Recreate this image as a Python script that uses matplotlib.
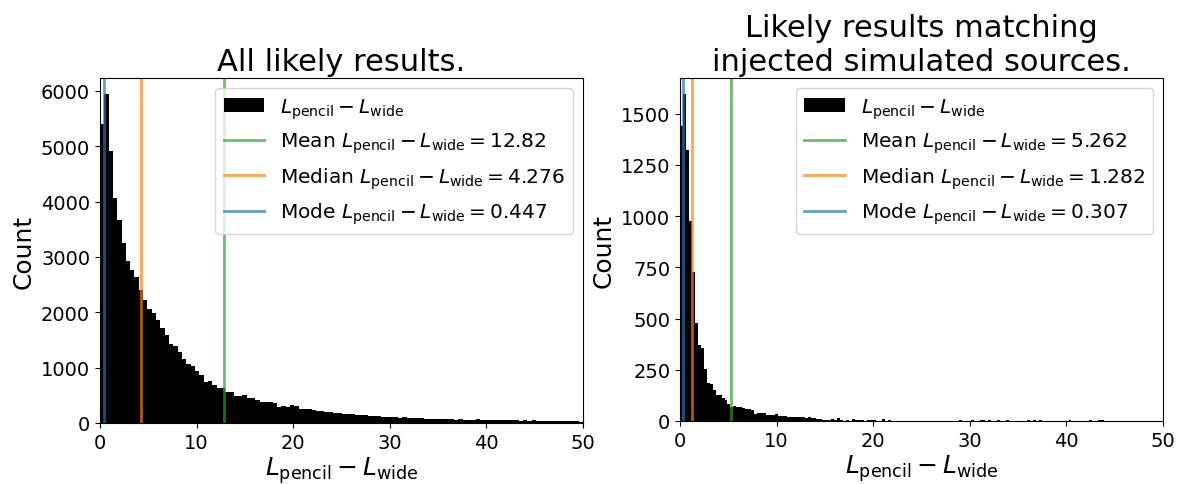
import numpy as np
import matplotlib
matplotlib.use("Agg")
from matplotlib import pyplot as plt
from matplotlib.ticker import MultipleLocator

# bin widths (the quoted "mode" is the upper edge of the tallest bin)
all_width = 0.447
inj_width = 0.307

# counts per bin
all_counts = [
    5408, 5935, 4910, 4059, 3669, 3249, 2932, 2770, 2632, 2410,
    2212, 2062, 1990, 1853, 1721, 1583, 1433, 1391, 1283, 1151,
    1061, 1031, 941, 863, 744, 761, 683, 623, 623, 551,
    551, 480, 480, 503, 444, 444, 414, 372, 372, 378,
    366, 294, 300, 288, 324, 300, 258, 252, 246, 228,
    222, 210, 204, 192, 186, 174, 168, 162, 156, 150,
    144, 138, 132, 126, 120, 114, 108, 102, 102, 96,
    102, 96, 90, 84, 90, 78, 78, 72, 72, 66,
    72, 66, 60, 66, 60, 54, 60, 66, 60, 54,
    60, 54, 48, 54, 48, 54, 48, 42, 48, 42,
    48, 42, 36, 42, 36, 42, 36, 42, 30, 36,
    30, 24,
]

inj_counts = [
    1441, 1594, 1323, 977, 727, 476, 373, 357, 256, 187,
    179, 149, 127, 127, 114, 101, 81, 68, 73, 70,
    66, 62, 60, 57, 55, 36, 38, 39, 40, 28,
    30, 31, 32, 24, 25, 22, 19, 20, 18, 19,
    17, 20, 16, 17, 15, 16, 10, 11, 6, 7,
    5, 8, 6, 15, 3, 2, 4, 0, 10, 3,
    4, 3, 2, 3, 4, 3, 1, 2, 10, 2,
    5, 1, 2, 1, 2, 1, 1, 2, 1, 1,
    2, 1, 1, 1, 2, 1, 1, 1, 0, 1,
    1, 1, 1, 0, 3, 0, 0, 2, 3, 0,
    0, 3, 3, 2, 3, 1, 0, 3, 2, 0,
    3, 2, 0, 0, 0, 0, 2, 3, 0, 3,
    0, 3, 2, 0, 0, 0, 0, 0, 0, 0,
    0, 3, 2, 0, 0, 0, 0, 0, 3, 0,
    0, 3, 3, 2,
]

titles = ["All likely results.", "Likely results matching\ninjected simulated sources."]
means = [12.82, 5.262]
medians = [4.276, 1.282]
modes = [0.447, 0.307]
ytick_steps = [1000, 250]

qty = r"$L_{\rm pencil} - L_{\rm wide}$"
qty_eq = r"$L_{\rm pencil} - L_{\rm wide} = "

fig = plt.figure(figsize=(11.8, 4.85), dpi=100)
ax1 = fig.add_axes([0.0847, 0.126, 0.4093, 0.711])
ax2 = fig.add_axes([0.5763, 0.130, 0.4093, 0.707])

datasets = [(all_counts, all_width), (inj_counts, inj_width)]

for i, ax in enumerate([ax1, ax2]):
    counts, width = datasets[i]
    edges = np.arange(len(counts) + 1) * width
    ax.hist(edges[:-1], bins=edges, weights=counts, color='k', label=qty)

    ax.axvline(means[i], color='C2', alpha=0.7, lw=2,
               label="Mean " + qty_eq + str(means[i]) + "$")
    ax.axvline(medians[i], color='C1', alpha=0.7, lw=2,
               label="Median " + qty_eq + str(medians[i]) + "$")
    ax.axvline(modes[i], color='C0', alpha=0.7, lw=2,
               label="Mode " + qty_eq + str(modes[i]) + "$")

    ax.set_xlim(0, 50)
    ax.yaxis.set_major_locator(MultipleLocator(ytick_steps[i]))
    ax.set_title(titles[i], fontsize=22)
    ax.set_xlabel(qty, fontsize=18, labelpad=2)
    ax.set_ylabel("Count", fontsize=18)
    ax.tick_params(labelsize=14)
    ax.legend(loc='upper right', fontsize=14.5)

fig.savefig("out.png", dpi=100)
